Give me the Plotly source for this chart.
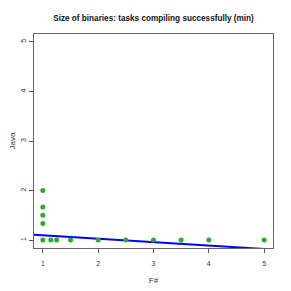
import plotly.graph_objects as go

# data
fsharp = [1, 1, 1, 1, 1, 1.143, 1.25, 1.5, 2, 2.5, 3, 3.5, 4, 5]
java = [2, 1.667, 1.5, 1.333, 1, 1, 1, 1, 1, 1, 1, 1, 1, 1]
fit_intercept = 1.165
fit_slope = -0.069
xticks = [1, 2, 3, 4, 5]
yticks = [1, 2, 3, 4, 5]

xr = [0.84, 5.16]
yr = [0.84, 5.16]

fig = go.Figure()
fig.add_trace(go.Scatter(x=[xr[0], xr[1]],
                         y=[fit_intercept + fit_slope * xr[0], fit_intercept + fit_slope * xr[1]],
                         mode="lines", line=dict(color="#0000ff", width=2), hoverinfo="skip"))
fig.add_trace(go.Scatter(x=fsharp, y=java, mode="markers",
                         marker=dict(color="#2ea82e", size=5, line=dict(width=0))))

axis_common = dict(showgrid=False, zeroline=False, ticks="outside", ticklen=4,
                   tickcolor="#555", tickwidth=1, showline=True, linecolor="#666",
                   linewidth=1, mirror=True, automargin=False,
                   tickfont=dict(family="Liberation Sans", size=7, color="#333"))
fig.update_xaxes(range=xr, tickvals=xticks, ticktext=[str(t) for t in xticks],
                 ticklabelstandoff=5,
                 title=dict(text="F#", font=dict(family="Liberation Sans", size=8, color="#333"), standoff=10),
                 **axis_common)
fig.update_yaxes(range=yr, tickvals=yticks, ticktext=[str(t) for t in yticks], tickangle=-90,
                 title=dict(text="Java", font=dict(family="Liberation Sans", size=8, color="#333"), standoff=6),
                 **axis_common)
W = 283
fig.update_layout(
    width=W, height=W, showlegend=False,
    plot_bgcolor="white", paper_bgcolor="white",
    margin=dict(l=26, r=18, t=26, b=43, autoexpand=False),
    title=dict(text="<b>Size of binaries: tasks compiling successfully (min)</b>",
               x=(153.5 - 8) / W, xanchor="center", y=1 - 10 / W, yanchor="middle",
               font=dict(family="Liberation Sans", size=8.2, color="#111")),
)
fig.write_html("out.html")
